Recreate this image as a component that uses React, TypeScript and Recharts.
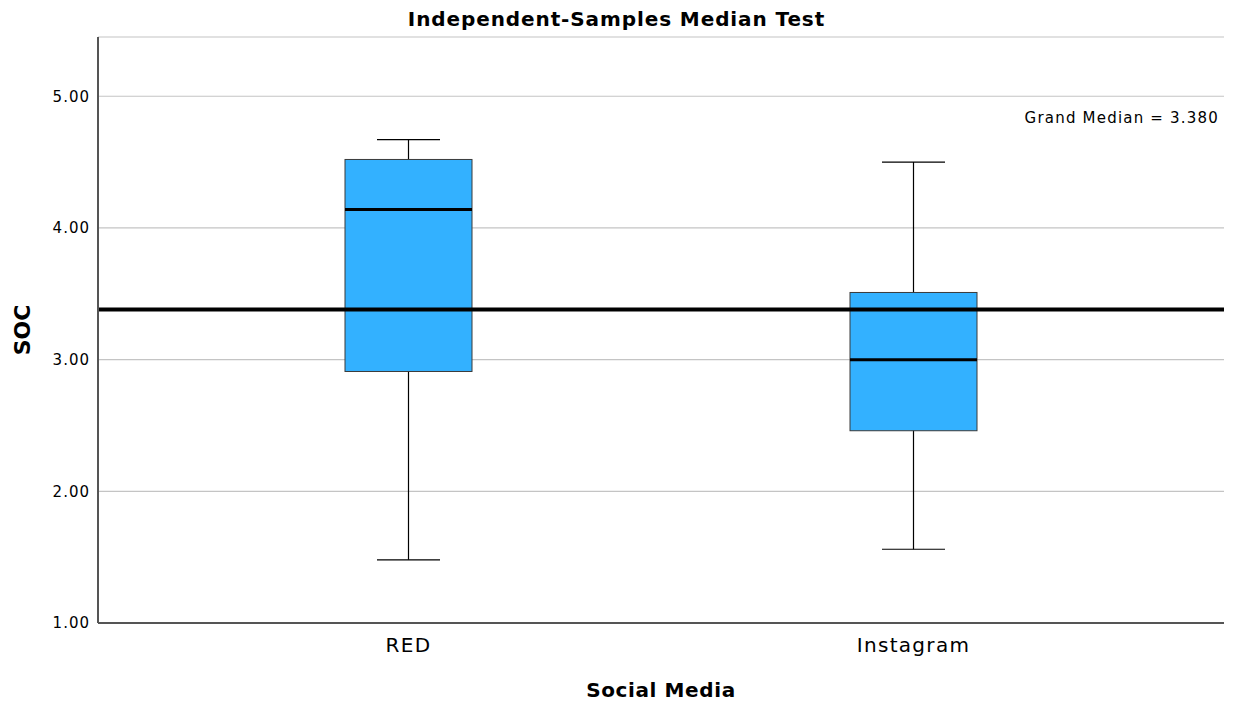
import React from 'react';
import {
  ComposedChart,
  Bar,
  Scatter,
  XAxis,
  YAxis,
  CartesianGrid,
  ReferenceLine,
  Label,
} from 'recharts';

document.body.style.margin = '0';

// values
const groups = ['RED', 'Instagram'];
const whiskerLow = [1.48, 1.56];
const quartile1 = [2.91, 2.46];
const medians = [4.14, 3.0];
const quartile3 = [4.52, 3.51];
const whiskerHigh = [4.67, 4.5];
const grandMedian = 3.38;
const yTicks = [1, 2, 3, 4, 5];

const FONT = '"DejaVu Sans", Verdana, sans-serif';
const BOX_WIDTH = 127;

const data = groups.map((name, i) => ({
  name,
  whisker: [whiskerLow[i], whiskerHigh[i]],
  box: [quartile1[i], quartile3[i]],
  median: medians[i],
}));

const WhiskerShape = (props: any) => {
  const { x, y, width, height } = props;
  const cx = x + width / 2;
  const cap = 31.5;
  return (
    <g stroke="#000" strokeWidth={1.2}>
      <line x1={cx} x2={cx} y1={y} y2={y + height} />
      <line x1={cx - cap} x2={cx + cap} y1={y} y2={y} />
      <line x1={cx - cap} x2={cx + cap} y1={y + height} y2={y + height} />
    </g>
  );
};

const BoxShape = (props: any) => {
  const { x, y, width, height } = props;
  return <rect x={x} y={y} width={width} height={height} fill="#33b1ff" stroke="#3a3a3a" strokeWidth={1} />;
};

const MedianShape = (props: any) => {
  const { cx, cy } = props;
  return (
    <line
      x1={cx - BOX_WIDTH / 2}
      x2={cx + BOX_WIDTH / 2}
      y1={cy}
      y2={cy}
      stroke="#000"
      strokeWidth={3}
    />
  );
};

export default function App() {
  return (
    <div style={{ position: 'relative', width: 1233, height: 709, fontFamily: FONT, background: '#fff' }}>
      <div
        style={{
          position: 'absolute',
          top: 7,
          left: 0,
          width: 1233,
          textAlign: 'center',
          fontSize: 20,
          letterSpacing: 0.9,
          fontWeight: 'bold',
          color: '#000',
        }}
      >
        Independent-Samples Median Test
      </div>
      <div
        style={{
          position: 'absolute',
          top: 109,
          right: 14,
          fontSize: 15,
          letterSpacing: 1.2,
          color: '#000',
        }}
      >
        Grand Median = 3.380
      </div>
      <ComposedChart
        width={1233}
        height={709}
        data={data}
        margin={{ top: 37, right: 9, left: 0, bottom: 0 }}
        barGap={-BOX_WIDTH}
      >
        <CartesianGrid horizontal vertical={false} stroke="#c4c4c4" strokeWidth={1.2} />
        <XAxis
          dataKey="name"
          type="category"
          height={86}
          padding={{ left: 58, right: 58 }}
          axisLine={{ stroke: '#555', strokeWidth: 2 }}
          tickLine={false}
          tickSize={0}
          tickMargin={15}
          tick={{ fontSize: 20, fill: '#000', fontFamily: FONT, letterSpacing: 1.3 }}
        >
          <Label
            value="Social Media"
            position="insideBottom"
            offset={12}
            style={{ fontSize: 20, fontWeight: 'bold', fill: '#000', fontFamily: FONT, letterSpacing: 0.6 }}
          />
        </XAxis>
        <YAxis
          type="number"
          width={98}
          domain={[1, 5.45]}
          ticks={yTicks}
          allowDataOverflow
          axisLine={{ stroke: '#555', strokeWidth: 2 }}
          tickLine={false}
          tickSize={0}
          tickMargin={8}
          tickFormatter={(v: number) => v.toFixed(2)}
          tick={{ fontSize: 15, fill: '#000', fontFamily: FONT, letterSpacing: 1 }}
        >
          <Label
            value="SOC"
            angle={-90}
            position="insideLeft"
            offset={22}
            style={{ fontSize: 22, fontWeight: 'bold', fill: '#000', fontFamily: FONT, textAnchor: 'middle' }}
          />
        </YAxis>
        <Bar dataKey="whisker" barSize={BOX_WIDTH} shape={<WhiskerShape />} isAnimationActive={false} />
        <Bar dataKey="box" barSize={BOX_WIDTH} shape={<BoxShape />} isAnimationActive={false} />
        <Scatter dataKey="median" shape={<MedianShape />} isAnimationActive={false} />
        <ReferenceLine y={grandMedian} stroke="#000" strokeWidth={4} />
      </ComposedChart>
    </div>
  );
}
